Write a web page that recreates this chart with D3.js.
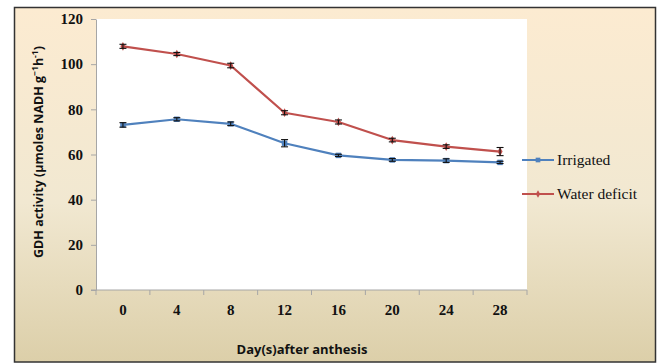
<!DOCTYPE html>
<html>
<head>
<meta charset="utf-8">
<script src="https://cdn.jsdelivr.net/npm/d3@7"></script>
<style>
  html, body { margin: 0; padding: 0; background: #ffffff; }
  svg { display: block; }
</style>
</head>
<body>
<svg id="chart" width="661" height="363"></svg>
<script>
// Days after anthesis
const days = ["0", "4", "8", "12", "16", "20", "24", "28"];
// GDH activity, irrigated plants
const irrigated = [73.1, 75.6, 73.6, 65.0, 59.6, 57.6, 57.3, 56.5];
const irrigatedErr = [1.0, 0.7, 0.8, 1.6, 0.5, 0.6, 0.8, 0.5];
// GDH activity, water-deficit plants
const waterDeficit = [107.9, 104.5, 99.4, 78.5, 74.4, 66.4, 63.5, 61.3];
const waterDeficitErr = [0.9, 0.7, 1.0, 0.9, 0.9, 0.8, 0.8, 1.8];
const yTicks = [0, 20, 40, 60, 80, 100, 120];

const svg = d3.select("#chart");

// chart-area gradient fill
const defs = svg.append("defs");
const grad = defs.append("linearGradient").attr("id", "bg")
  .attr("x1", 0).attr("y1", 0).attr("x2", 0).attr("y2", 1);
grad.append("stop").attr("offset", "0%").attr("stop-color", "#fcebd1");
grad.append("stop").attr("offset", "55%").attr("stop-color", "#f1e8d1");
grad.append("stop").attr("offset", "100%").attr("stop-color", "#dccfa9");
const blur = defs.append("filter").attr("id", "soft")
  .attr("x", "-50%").attr("y", "-50%").attr("width", "200%").attr("height", "200%");
blur.append("feGaussianBlur").attr("stdDeviation", 0.6);

svg.append("rect")
  .attr("x", 14.5).attr("y", 7.5).attr("width", 641).attr("height", 354.5)
  .attr("fill", "url(#bg)").attr("stroke", "#333").attr("stroke-width", 1.5);

const plot = { left: 96, right: 527, top: 19, bottom: 290 };

// white plot area
svg.append("rect")
  .attr("x", plot.left).attr("y", plot.top)
  .attr("width", plot.right - plot.left).attr("height", plot.bottom - plot.top)
  .attr("fill", "#ffffff");

const x = d3.scaleBand().domain(days).range([plot.left, plot.right]).padding(0);
const y = d3.scaleLinear().domain([0, 120]).range([plot.bottom, plot.top]);

// y axis
const yAxis = svg.append("g")
  .attr("transform", `translate(${plot.left},0)`)
  .call(d3.axisLeft(y).tickValues(yTicks).tickSize(5).tickPadding(8).tickSizeOuter(0));
yAxis.select(".domain").attr("stroke", "#a6a6a6");
yAxis.selectAll(".tick line").attr("stroke", "#a6a6a6");
yAxis.selectAll(".tick text")
  .attr("font-family", "'Liberation Serif', 'Times New Roman', serif")
  .attr("font-weight", "bold").attr("font-size", 15).attr("fill", "#111");

// x axis: ticks at category boundaries, labels centred in each band
const xAxisG = svg.append("g").attr("transform", `translate(0,${plot.bottom})`);
xAxisG.append("line")
  .attr("x1", plot.left - 5).attr("x2", plot.right)
  .attr("stroke", "#a6a6a6");
const bounds = days.map(d => x(d)).concat([plot.right]);
xAxisG.selectAll("line.tk").data(bounds).join("line").attr("class", "tk")
  .attr("x1", d => d).attr("x2", d => d).attr("y1", 0).attr("y2", 5)
  .attr("stroke", "#a6a6a6");
xAxisG.selectAll("text").data(days).join("text")
  .attr("x", d => x(d) + x.bandwidth() / 2).attr("y", 25)
  .attr("text-anchor", "middle")
  .attr("font-family", "'Liberation Serif', 'Times New Roman', serif")
  .attr("font-weight", "bold").attr("font-size", 15).attr("fill", "#111")
  .text(d => d);

// axis titles
svg.append("text")
  .attr("x", 302).attr("y", 354).attr("text-anchor", "middle")
  .attr("font-family", "'Open Sans', 'Liberation Sans', sans-serif")
  .attr("font-weight", "bold").attr("font-size", 13).attr("fill", "#111")
  .text("Day(s)after anthesis");

const yt = svg.append("text")
  .attr("transform", "translate(43,152) rotate(-90)")
  .attr("text-anchor", "middle")
  .attr("font-family", "'Open Sans', 'Liberation Sans', sans-serif")
  .attr("font-weight", "bold").attr("font-size", 12.5).attr("fill", "#111");
yt.append("tspan").text("GDH activity (µmoles NADH g");
yt.append("tspan").attr("dy", -5).attr("font-size", 8.5).text("−1");
yt.append("tspan").attr("dy", 5).text("h");
yt.append("tspan").attr("dy", -5).attr("font-size", 8.5).text("-1");
yt.append("tspan").attr("dy", 5).text(")");

const cx = d => x(d) + x.bandwidth() / 2;
const series = [
  { name: "Irrigated", values: irrigated, err: irrigatedErr, color: "#4f81bd", marker: "square" },
  { name: "Water deficit", values: waterDeficit, err: waterDeficitErr, color: "#c0504d", marker: "diamond" }
];

const line = d3.line().x((v, i) => cx(days[i])).y(v => y(v));

series.forEach(s => {
  const g = svg.append("g");
  g.append("path").datum(s.values)
    .attr("d", line).attr("fill", "none")
    .attr("stroke", s.color).attr("stroke-width", 2.2).attr("stroke-linejoin", "round");
  // markers
  const sym = s.marker === "square" ? d3.symbolSquare : d3.symbolDiamond;
  const size = s.marker === "square" ? 30 : 22;
  g.selectAll("path.mk").data(s.values).join("path").attr("class", "mk")
    .attr("d", d3.symbol().type(sym).size(size))
    .attr("transform", (v, i) => `translate(${cx(days[i])},${y(v)})`)
    .attr("fill", s.color);
  // error bars
  const eb = g.selectAll("g.eb").data(s.values).join("g").attr("class", "eb");
  const drawEb = (sel, stroke, width, filt) => {
    sel.append("line")
      .attr("x1", (v, i) => cx(days[i])).attr("x2", (v, i) => cx(days[i]))
      .attr("y1", (v, i) => y(v + s.err[i])).attr("y2", (v, i) => y(v - s.err[i]))
      .attr("stroke", stroke).attr("stroke-width", width).attr("filter", filt);
    [1, -1].forEach(sign => {
      sel.append("line")
        .attr("x1", (v, i) => cx(days[i]) - 3.5).attr("x2", (v, i) => cx(days[i]) + 3.5)
        .attr("y1", (v, i) => y(v + sign * s.err[i])).attr("y2", (v, i) => y(v + sign * s.err[i]))
        .attr("stroke", stroke).attr("stroke-width", width).attr("filter", filt);
    });
  };
  drawEb(eb, "#a0a0a0", 2.6, "url(#soft)");
  drawEb(eb, "#111", 1.1, null);
});

// legend
const legend = svg.append("g");
series.forEach((s, i) => {
  const ly = 160 + i * 34;
  legend.append("line").attr("x1", 522).attr("x2", 554).attr("y1", ly).attr("y2", ly)
    .attr("stroke", s.color).attr("stroke-width", 2);
  const sym = s.marker === "square" ? d3.symbolSquare : d3.symbolDiamond;
  legend.append("path")
    .attr("d", d3.symbol().type(sym).size(s.marker === "square" ? 22 : 16))
    .attr("transform", `translate(538,${ly})`).attr("fill", s.color);
  legend.append("text").attr("x", 557).attr("y", ly + 5)
    .attr("font-family", "'Liberation Serif', 'Times New Roman', serif")
    .attr("font-size", 15.5).attr("fill", "#111").text(s.name);
});
</script>
</body>
</html>
